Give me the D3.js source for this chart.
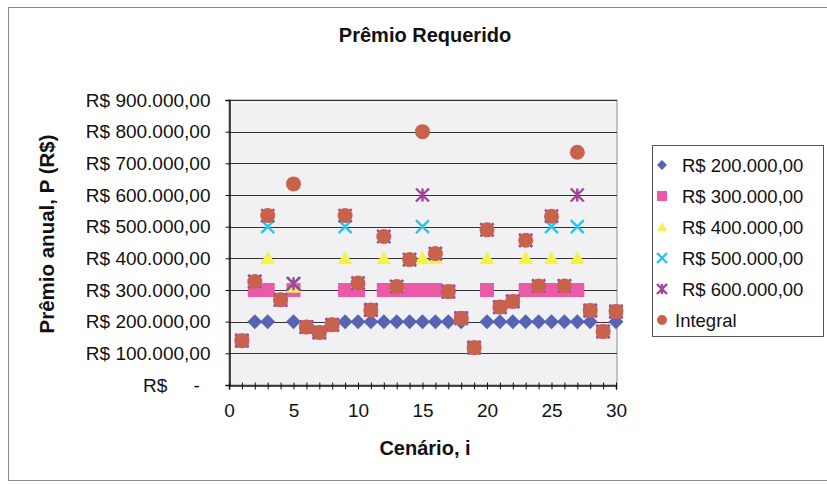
<!DOCTYPE html>
<html>
<head>
<meta charset="utf-8">
<script src="https://cdn.jsdelivr.net/npm/d3@7"></script>
<style>
  html, body { margin: 0; padding: 0; background: #ffffff; }
  svg { display: block; font-family: "Liberation Sans", Arial, sans-serif; }
</style>
</head>
<body>
<svg id="chart" width="827" height="484"></svg>
<script>
// Scenario numbers (x axis)
const scenarios = d3.range(1, 31);

// Required annual premium (R$) per scenario, one array per coverage series
const integral = [140000, 327000, 535000, 269000, 635000, 183000, 166000, 190000, 535000, 322000,
                  237000, 469000, 311000, 396000, 800000, 415000, 295000, 211000, 118000, 490000,
                  246000, 264000, 457000, 313000, 533000, 313000, 735000, 235000, 169000, 232000];
const cover200 = [140000, 200000, 200000, 269000, 200000, 183000, 166000, 190000, 200000, 200000,
                  200000, 200000, 200000, 200000, 200000, 200000, 200000, 200000, 118000, 200000,
                  200000, 200000, 200000, 200000, 200000, 200000, 200000, 200000, 169000, 200000];
const cover300 = [140000, 300000, 300000, 269000, 300000, 183000, 166000, 190000, 300000, 300000,
                  237000, 300000, 300000, 300000, 300000, 300000, 295000, 211000, 118000, 300000,
                  246000, 264000, 300000, 300000, 300000, 300000, 300000, 235000, 169000, 232000];
const cover400 = [140000, 327000, 400000, 269000, 310000, 183000, 166000, 190000, 400000, 322000,
                  237000, 400000, 311000, 396000, 400000, 400000, 295000, 211000, 118000, 400000,
                  246000, 264000, 400000, 313000, 400000, 313000, 400000, 235000, 169000, 232000];
const cover500 = [140000, 327000, 500000, 269000, 320000, 183000, 166000, 190000, 500000, 322000,
                  237000, 469000, 311000, 396000, 500000, 415000, 295000, 211000, 118000, 490000,
                  246000, 264000, 457000, 313000, 500000, 313000, 500000, 235000, 169000, 232000];
const cover600 = [140000, 327000, 535000, 269000, 320000, 183000, 166000, 190000, 535000, 322000,
                  237000, 469000, 311000, 396000, 600000, 415000, 295000, 211000, 118000, 490000,
                  246000, 264000, 457000, 313000, 533000, 313000, 600000, 235000, 169000, 232000];

const seriesNames = ["R$ 200.000,00", "R$ 300.000,00", "R$ 400.000,00", "R$ 500.000,00", "R$ 600.000,00", "Integral"];
const yTickValues = [0, 100000, 200000, 300000, 400000, 500000, 600000, 700000, 800000, 900000];
const xTickLabels = [0, 5, 10, 15, 20, 25, 30];

const series = [
  { name: seriesNames[0], values: cover200, shape: "diamond",  color: "#5565b4", size: 15 },
  { name: seriesNames[1], values: cover300, shape: "square",   color: "#ea5aa6", size: 14 },
  { name: seriesNames[2], values: cover400, shape: "triangle", color: "#f7f150", size: 15 },
  { name: seriesNames[3], values: cover500, shape: "cross",    color: "#2cc4ec", size: 13 },
  { name: seriesNames[4], values: cover600, shape: "star",     color: "#a0439c", size: 13 },
  { name: seriesNames[5], values: integral, shape: "circle",   color: "#c9624c", size: 15 }
];

const svg = d3.select("#chart");

// chart area frame
svg.append("rect")
  .attr("x", 8.5).attr("y", 7.5).attr("width", 830).attr("height", 473)
  .attr("fill", "#ffffff").attr("stroke", "#8a8a8a").attr("stroke-width", 1);

const plot = { left: 229, right: 617, top: 100, bottom: 385 };

const x = d3.scaleLinear().domain([0, 30]).range([plot.left, plot.left + 12.9 * 30]);
const y = d3.scaleLinear().domain([0, 900000]).range([plot.bottom, plot.top]);

// plot background
svg.append("rect")
  .attr("x", plot.left).attr("y", plot.top)
  .attr("width", plot.right - plot.left).attr("height", plot.bottom - plot.top)
  .attr("fill", "#f1f1f3").attr("stroke", "#8c8c8c").attr("stroke-width", 1);

// horizontal gridlines
svg.append("g")
  .selectAll("line")
  .data(yTickValues.filter(v => v > 0))
  .join("line")
  .attr("x1", plot.left).attr("x2", plot.right)
  .attr("y1", d => Math.round(y(d)) + 0.5).attr("y2", d => Math.round(y(d)) + 0.5)
  .attr("stroke", "#333333").attr("stroke-width", 1);

// currency format pt-BR
const brl = d3.formatLocale({ decimal: ",", thousands: ".", grouping: [3], currency: ["R$ ", ""] });
const fmt = v => v === 0 ? "R$     -  " : "R$ " + brl.format(",.2f")(v);

// y axis
const yAxis = svg.append("g")
  .attr("transform", `translate(${plot.left + 0.5},0)`)
  .call(d3.axisLeft(y).tickValues(yTickValues).tickFormat(fmt).tickSize(4).tickPadding(15));
yAxis.select(".domain").attr("stroke", "#111").attr("stroke-width", 1.5);
yAxis.selectAll(".tick line").attr("stroke", "#111");
yAxis.selectAll("text")
  .attr("fill", "#111").style("font-size", "19px").style("white-space", "pre")
  .attr("font-family", "Liberation Sans, Arial, sans-serif");

// x axis
const xAxis = svg.append("g")
  .attr("transform", `translate(0,${plot.bottom + 0.5})`)
  .call(d3.axisBottom(x).tickValues(d3.range(0, 31)).tickSize(4).tickPadding(14)
    .tickFormat(d => xTickLabels.includes(d) ? String(d) : ""));
xAxis.select(".domain").attr("stroke", "#111").attr("stroke-width", 1.5);
xAxis.selectAll(".tick line").attr("stroke", "#111").attr("y1", -3);
xAxis.selectAll("text")
  .attr("fill", "#111").style("font-size", "19px")
  .attr("font-family", "Liberation Sans, Arial, sans-serif");

// marker shapes
function markerPath(shape, s) {
  const h = s / 2;
  switch (shape) {
    case "diamond": return `M0,${-h}L${h},0L0,${h}L${-h},0Z`;
    case "square": return `M${-h},${-h}H${h}V${h}H${-h}Z`;
    case "triangle": return `M0,${-h}L${h},${h * 0.8}L${-h},${h * 0.8}Z`;
    case "cross": return `M${-h},${-h}L${h},${h}M${h},${-h}L${-h},${h}`;
    case "star": return `M${-h},${-h}L${h},${h}M${h},${-h}L${-h},${h}M0,${-h}V${h}`;
    default: return "";
  }
}

function drawMarker(sel, s) {
  if (s.shape === "circle") {
    sel.append("circle").attr("r", s.size / 2).attr("fill", s.color);
  } else if (s.shape === "cross" || s.shape === "star") {
    sel.append("path").attr("d", markerPath(s.shape, s.size))
      .attr("fill", "none").attr("stroke", s.color).attr("stroke-width", 2.4);
  } else {
    sel.append("path").attr("d", markerPath(s.shape, s.size)).attr("fill", s.color);
  }
}

// points
const pointsG = svg.append("g");
series.forEach(s => {
  const g = pointsG.append("g");
  g.selectAll("g")
    .data(scenarios.map((sc, i) => ({ sc, v: s.values[i] })))
    .join("g")
    .attr("transform", d => `translate(${x(d.sc)},${y(d.v)})`)
    .each(function () { drawMarker(d3.select(this), s); });
});

// title
svg.append("text")
  .attr("x", 425).attr("y", 42).attr("text-anchor", "middle")
  .style("font-size", "20px").style("font-weight", "bold").attr("fill", "#111")
  .text("Prêmio Requerido");

// axis titles
svg.append("text")
  .attr("x", 425).attr("y", 455).attr("text-anchor", "middle")
  .style("font-size", "20px").style("font-weight", "bold").attr("fill", "#111")
  .text("Cenário, i");

svg.append("text")
  .attr("transform", "translate(54,234) rotate(-90)").attr("text-anchor", "middle")
  .style("font-size", "20.5px").style("font-weight", "bold").attr("fill", "#111")
  .text("Prêmio anual, P (R$)");

// legend
const legend = svg.append("g");
legend.append("rect")
  .attr("x", 652.5).attr("y", 145.5).attr("width", 171).attr("height", 191)
  .attr("fill", "#ffffff").attr("stroke", "#555").attr("stroke-width", 1);

const rowY = d3.scaleLinear().domain([0, 5]).range([165, 320]);
series.forEach((s, i) => {
  const row = legend.append("g").attr("transform", `translate(662,${rowY(i)})`);
  drawMarker(row, { ...s, size: s.shape === "circle" ? 10 : 10 });
  row.append("text")
    .attr("x", s.shape === "circle" ? 13 : 20).attr("y", 6.5)
    .style("font-size", "18.5px").attr("fill", "#111")
    .text(s.name);
});
</script>
</body>
</html>
